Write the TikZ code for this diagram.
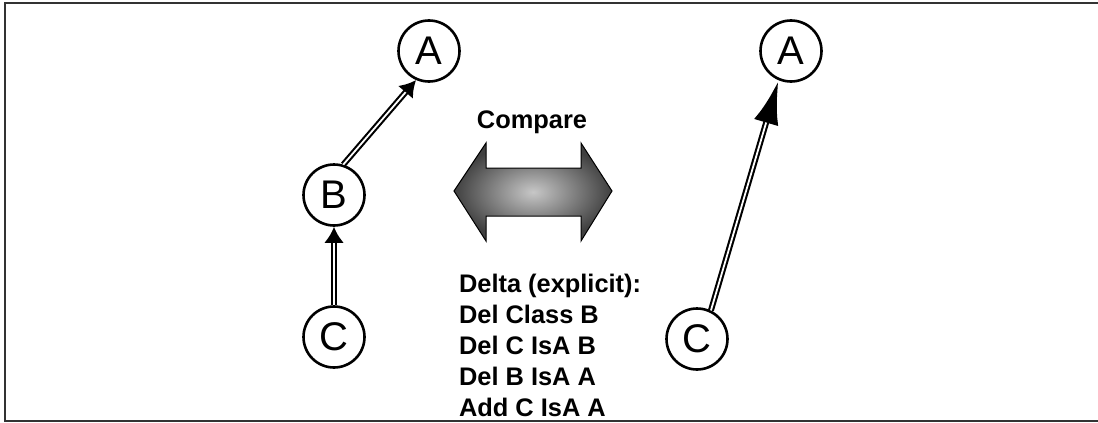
\documentclass[tikz,border=0pt]{standalone}
\usepackage{fontspec}
\setmainfont{Liberation Sans}
\usetikzlibrary{arrows.meta}

\tikzset{
	cls/.style={draw, circle, line width=1.3pt, minimum size=30.5pt, inner sep=0pt, font=\fontsize{20}{24}\selectfont},
	boldtxt/.style={font=\bfseries\fontsize{12.7}{15.5}\selectfont}
}
% double IsA link: thick black line with a white core
\newcommand{\isalink}[4]{%
	\draw[line width=3pt, -{Latex[length=#3, width=#4]}] (#1) -- (#2);
	\draw[white, line width=0.9pt, shorten >=#3] (#1) -- (#2);
}

\begin{document}
\begin{tikzpicture}[x=0.5pt, y=-0.5pt]
\useasboundingbox (0,0) rectangle (1098,423);

% frame
\draw[line width=1pt, black!80] (1098,3) -- (5,3) -- (5,421) -- (1098,421);

% old hierarchy
\node[cls] (A) at (429,51) {A};
\node[cls] (B) at (334,195) {B};
\node[cls] (C) at (334,337) {C};

% new hierarchy
\node[cls] (A2) at (791,51) {A};
\node[cls] (C2) at (697,339) {C};

\isalink{B.73}{A.246}{8pt}{10pt}
\isalink{C.90}{B.270}{8pt}{10pt}
\isalink{C2.64}{A2.247}{22pt}{12.6pt}

% compare arrow
\shade[draw=black, line width=0.5pt, inner color=black!22, outer color=black!75]
	(454,191) -- (486,143) -- (486,168) -- (581,168) -- (581,143) -- (612,191)
	-- (581,241) -- (581,216) -- (486,216) -- (486,241) -- cycle;
\node[boldtxt] (cmp) at (532,122) {Compare};

\node[boldtxt, align=left, anchor=west] (delta) at (452,345) {Delta (explicit):\\Del Class B\\Del C IsA B\\Del B IsA A\\Add C IsA A};
\end{tikzpicture}
\end{document}
